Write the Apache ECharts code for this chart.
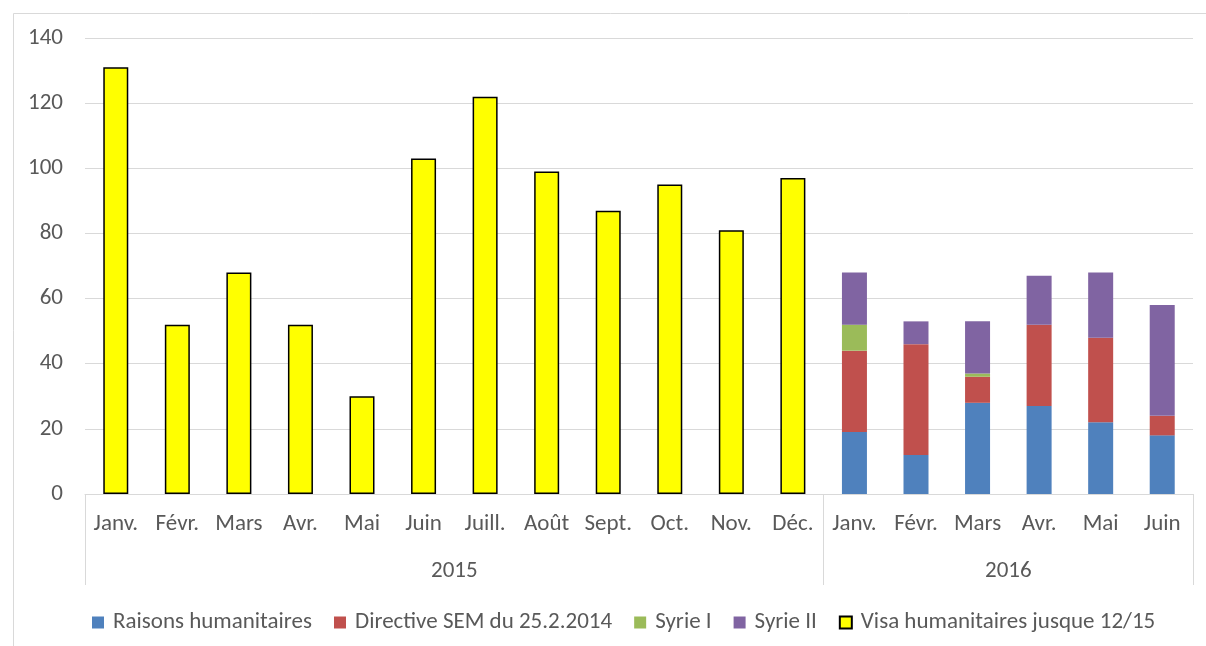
<!DOCTYPE html>
<html>
<head>
<meta charset="utf-8">
<script src="https://cdn.jsdelivr.net/npm/echarts@6/dist/echarts.min.js"></script>
<style>html,body{margin:0;padding:0;background:#fff;}#c{width:1206px;height:646px;}</style>
</head>
<body>
<div id="c"></div>
<script>
const months = ['Janv.','Févr.','Mars','Avr.','Mai','Juin','Juill.','Août','Sept.','Oct.','Nov.','Déc.','Janv.','Févr.','Mars','Avr.','Mai','Juin'];
const years = ['2015','2016'];
const monthsPerYear = [12, 6];
const yTicks = [0,20,40,60,80,100,120,140];

const raisonsHumanitaires = [null,null,null,null,null,null,null,null,null,null,null,null,19,12,28,27,22,18];
const directiveSEM       = [null,null,null,null,null,null,null,null,null,null,null,null,25,34,8,25,26,6];
const syrieI             = [null,null,null,null,null,null,null,null,null,null,null,null,8,0,1,0,0,0];
const syrieII            = [null,null,null,null,null,null,null,null,null,null,null,null,16,7,16,15,20,34];
const visaHumanitaires   = [131,52,68,52,30,103,122,99,87,95,81,97,null,null,null,null,null,null];

const FONT = 'Carlito, Lato, "Open Sans", sans-serif';
const FS = 23;
const TXT = '#595959';
const GRIDC = '#d9d9d9';

const bounds = [0];
monthsPerYear.forEach(n => bounds.push(bounds[bounds.length-1] + n));
const centres = years.map((y,i) => (bounds[i] + bounds[i+1]) / 2);

const chart = echarts.init(document.getElementById('c'));
const mk = (name, data, color, extra) => Object.assign({
  name, type: 'bar', stack: 'total', data, barWidth: 25, xAxisIndex: 0,
  itemStyle: { color }
}, extra || {});

chart.setOption({
  animation: false,
  backgroundColor: '#fff',
  textStyle: { fontFamily: FONT },
  graphic: [{
    type: 'rect', left: 11, top: 11, silent: true,
    shape: { width: 1300, height: 700 },
    style: { fill: 'none', stroke: GRIDC, lineWidth: 1 }
  }],
  grid: { left: 85, right: 13, top: 38, bottom: 152, containLabel: false },
  legend: {
    top: 606, left: 87, itemWidth: 12, itemHeight: 12, icon: 'rect', itemGap: 22,
    textStyle: { color: TXT, fontSize: FS, fontFamily: FONT, padding: [0,0,0,4] },
    data: ['Raisons humanitaires','Directive SEM du 25.2.2014','Syrie I','Syrie II','Visa humanitaires jusque 12/15']
  },
  xAxis: [{
    type: 'category', data: months, position: 'bottom',
    axisLine: { lineStyle: { color: GRIDC, width: 1 } },
    axisTick: { show: false },
    axisLabel: { interval: 0, color: TXT, fontSize: FS, margin: 19, fontFamily: FONT }
  }, {
    type: 'value', min: 0, max: bounds[bounds.length-1], position: 'bottom', gridIndex: 0,
    axisLine: { show: false }, splitLine: { show: false },
    axisTick: { show: true, customValues: bounds, length: 91, lineStyle: { color: GRIDC, width: 1 } },
    axisLabel: { customValues: centres, color: TXT, fontSize: FS, margin: 66, fontFamily: FONT,
      formatter: v => years[centres.indexOf(v)] }
  }],
  yAxis: {
    type: 'value', min: yTicks[0], max: yTicks[yTicks.length-1], interval: 20,
    axisLine: { show: false }, axisTick: { show: false },
    splitLine: { lineStyle: { color: GRIDC, width: 1 } },
    axisLabel: { color: TXT, fontSize: FS, margin: 22, fontFamily: FONT }
  },
  series: [
    mk('Raisons humanitaires', raisonsHumanitaires, '#4F81BD'),
    mk('Directive SEM du 25.2.2014', directiveSEM, '#C0504D'),
    mk('Syrie I', syrieI, '#9BBB59'),
    mk('Syrie II', syrieII, '#8064A2'),
    mk('Visa humanitaires jusque 12/15', visaHumanitaires, '#FFFF00',
       { itemStyle: { color: '#FFFF00', borderColor: '#000', borderWidth: 1.5 } })
  ]
});
</script>
</body>
</html>
